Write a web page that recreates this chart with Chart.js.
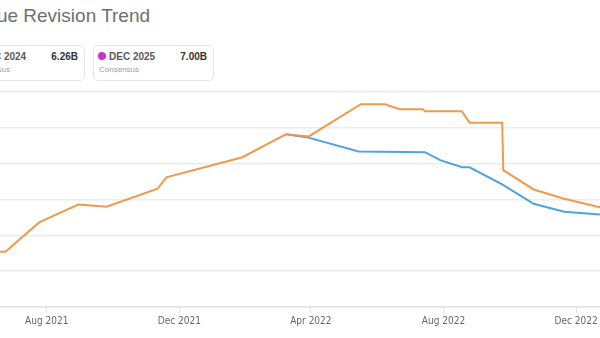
<!DOCTYPE html>
<html>
<head>
<meta charset="utf-8">
<script src="https://cdn.jsdelivr.net/npm/chart.js@4.4.0/dist/chart.umd.min.js"></script>
<style>
  html, body { margin: 0; padding: 0; background: #fff; overflow: hidden; }
  body { width: 600px; height: 338px; position: relative; font-family: "Liberation Sans", Arial, sans-serif; }
  #title { position: absolute; top: 5px; left: -58px; font-size: 19px; color: #6f6f6f; white-space: nowrap; }
  .card { position: absolute; top: 45px; width: 121px; height: 36px; border: 1px solid #e6e6e6; border-radius: 5px; box-sizing: border-box; }
  .card .name { position: absolute; left: 15px; top: 5px; font-size: 10px; font-weight: bold; color: #5a5a5a; }
  .card .dot { position: absolute; left: 4px; top: 6px; width: 8px; height: 8px; border-radius: 50%; }
  .card .val { position: absolute; right: 6px; top: 5px; font-size: 10px; font-weight: bold; color: #333; }
  .card .sub { position: absolute; left: 5px; top: 19px; font-size: 8px; color: #a0a0a0; }
  #wrap { position: absolute; left: 0; top: 88px; width: 600px; height: 250px; }
</style>
</head>
<body>
<div id="title">Revenue Revision Trend</div>
<div id="cards"></div>
<div id="wrap"><canvas id="chart"></canvas></div>
<script>
// consensus cards
const cardNames = ["DEC 2024", "DEC 2025"];
const cardValues = ["6.26B", "7.00B"];
const cardColors = ["#8bc34a", "#cc33cc"];

// x axis ticks
const tickDates = ["2021-08-01", "2021-12-01", "2022-04-01", "2022-08-01", "2022-12-01"];
const tickLabels = ["Aug 2021", "Dec 2021", "Apr 2022", "Aug 2022", "Dec 2022"];

// orange series
const orangeDates = ["2021-06-19", "2021-06-24", "2021-07-25", "2021-08-30", "2021-09-25", "2021-11-11", "2021-11-19",
  "2022-01-28", "2022-03-09", "2022-03-30", "2022-05-17", "2022-06-08", "2022-06-22", "2022-07-13", "2022-07-15",
  "2022-08-18", "2022-08-25", "2022-09-24", "2022-09-25", "2022-10-23", "2022-11-20", "2022-12-23"];
const orangeValues = [3.77, 3.77, 4.18, 4.43, 4.40, 4.65, 4.81,
  5.09, 5.41, 5.38, 5.83, 5.83, 5.76, 5.76, 5.73,
  5.73, 5.57, 5.57, 4.91, 4.64, 4.51, 4.39];

// blue series
const blueDates = ["2022-03-09", "2022-03-28", "2022-05-15", "2022-07-15", "2022-07-29", "2022-08-18", "2022-08-25",
  "2022-09-24", "2022-10-23", "2022-11-20", "2022-12-23"];
const blueValues = [5.41, 5.37, 5.17, 5.16, 5.05, 4.95, 4.95,
  4.71, 4.44, 4.33, 4.29];

const viewStart = "2021-06-19";
const viewEnd = "2022-12-23";

const cards = document.getElementById("cards");
cardNames.forEach((name, i) => {
  const c = document.createElement("div");
  c.className = "card";
  c.style.left = (-36 + i * 129) + "px";
  c.innerHTML = `<span class="dot" style="background:${cardColors[i]}"></span>
    <span class="name">${name}</span><span class="val">${cardValues[i]}</span>
    <span class="sub">Consensus</span>`;
  cards.appendChild(c);
});

const toPoints = (dates, vals) => dates.map((d, i) => ({ x: Date.parse(d), y: vals[i] }));

new Chart(document.getElementById("chart"), {
  type: "line",
  data: {
    datasets: [
      { data: toPoints(orangeDates, orangeValues), borderColor: "#ef9a4c", borderWidth: 2, pointRadius: 0, tension: 0 },
      { data: toPoints(blueDates, blueValues), borderColor: "#4fa3dd", borderWidth: 2, pointRadius: 0, tension: 0 }
    ]
  },
  options: {
    responsive: true,
    maintainAspectRatio: false,
    animation: false,
    layout: { padding: { top: 4, bottom: 9, left: 0, right: 0 } },
    plugins: { legend: { display: false }, tooltip: { enabled: false } },
    scales: {
      x: {
        type: "linear",
        min: Date.parse(viewStart),
        max: Date.parse(viewEnd),
        afterBuildTicks: scale => { scale.ticks = tickDates.map(d => ({ value: Date.parse(d) })); },
        ticks: {
          autoSkip: false, maxRotation: 0, padding: 2,
          color: "#666", font: { family: "'Liberation Sans Narrow', 'DejaVu Sans Condensed', 'Liberation Sans'", size: 10 },
          callback: (v, i) => tickLabels[i]
        },
        grid: { drawOnChartArea: false, drawTicks: true, tickLength: 6, color: "#e2e2e2" },
        border: { color: "#e2e2e2", width: 1.5 }
      },
      y: {
        min: 3, max: 6,
        ticks: { display: false, stepSize: 0.5 },
        grid: { color: "#ececec", lineWidth: 1.5, drawTicks: false },
        border: { display: false }
      }
    }
  }
});
</script>
</body>
</html>
